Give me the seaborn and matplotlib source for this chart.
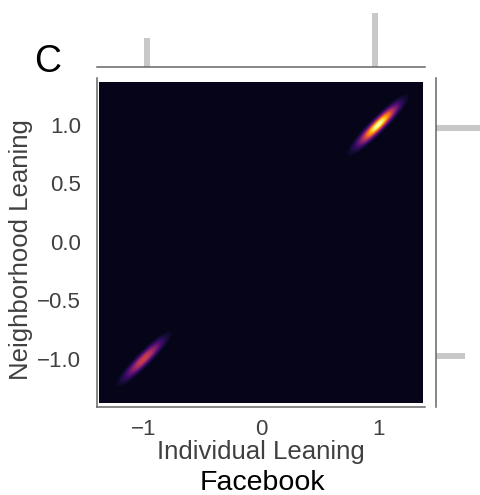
import numpy as np
import pandas as pd
import matplotlib
matplotlib.use('Agg')
import matplotlib.pyplot as plt
from matplotlib.colors import ListedColormap
import seaborn as sns

# weighted (individual, neighborhood) leaning pairs
individual = [-1, 1, 1, -1]
neighborhood = [-1, 1, -1, 1]
counts = [67, 127, 3, 3]

x_ticks = [-1, 0, 1]
y_ticks = [-1.0, -0.5, 0.0, 0.5, 1.0]

df = pd.DataFrame({'Individual Leaning': individual,
                   'Neighborhood Leaning': neighborhood,
                   'count': counts})

sns.set_style('white')
plt.rcParams['font.family'] = ['Liberation Sans', 'DejaVu Sans']

W, H = 480, 495
fig = plt.figure(figsize=(W / 100, H / 100), dpi=100)


def px_axes(x0, y0, x1, y1):
    return fig.add_axes([x0 / W, 1 - y1 / H, (x1 - x0) / W, (y1 - y0) / H])


ax = px_axes(97, 78, 425, 407)
ax_top = px_axes(97, 10, 425, 67)
ax_right = px_axes(436, 78, 493, 407)

# inferno without its pure-black end, so the background reads as navy
cmap = ListedColormap(plt.cm.inferno(np.linspace(0.028, 1, 256)))

# iso-proportion levels; the lowest band is the dark background
kde_levels = [0] + list(np.linspace(0.07, 1, 99))
sns.kdeplot(data=df, x='Individual Leaning', y='Neighborhood Leaning',
            weights='count', fill=True, levels=kde_levels, cmap=cmap,
            bw_method=0.072, cut=6, clip=((-1.375, 1.38), (-1.37, 1.36)),
            gridsize=250, ax=ax)

sns.histplot(data=df, x='Individual Leaning', weights='count', bins=40,
             color='#c8c8c8', alpha=1, linewidth=0, ax=ax_top)
sns.histplot(data=df, y='Neighborhood Leaning', weights='count', bins=40,
             color='#c8c8c8', alpha=1, linewidth=0, ax=ax_right)

ax.set_xlim(-1.40, 1.40)
ax.set_ylim(-1.41, 1.40)
ax_top.set_xlim(-1.40, 1.40)
ax_right.set_ylim(-1.41, 1.40)

for a in (ax, ax_top, ax_right):
    for s in a.spines.values():
        s.set_color('0.4')
        s.set_linewidth(1.1)

ax.spines['top'].set_visible(False)
ax.spines['right'].set_visible(False)
for s in ('top', 'right', 'left'):
    ax_top.spines[s].set_visible(False)
for s in ('top', 'right', 'bottom'):
    ax_right.spines[s].set_visible(False)

for a in (ax_top, ax_right):
    a.set_xticks([])
    a.set_yticks([])
    a.set_xlabel('')
    a.set_ylabel('')

ax.set_xticks(x_ticks)
ax.set_yticks(y_ticks)
ax.tick_params(axis='both', labelsize=16, labelcolor='0.25')
ax.tick_params(axis='x', pad=5)
ax.tick_params(axis='y', pad=8)
ax.set_xlabel('Individual Leaning', fontsize=18.5, color='0.25')
ax.set_ylabel('Neighborhood Leaning', fontsize=18.5, color='0.25')
ax.xaxis.set_label_coords(0.5, -0.1)
ax.yaxis.set_label_coords(-0.194, 0.48)

fig.text(34 / W, 1 - 72 / H, 'C', fontsize=27, va='baseline', color='black')
fig.text(262.5 / W, 1 - 490 / H, 'Facebook', fontsize=20.5, ha='center',
         va='baseline', color='black')

fig.savefig('out.png', dpi=100)
